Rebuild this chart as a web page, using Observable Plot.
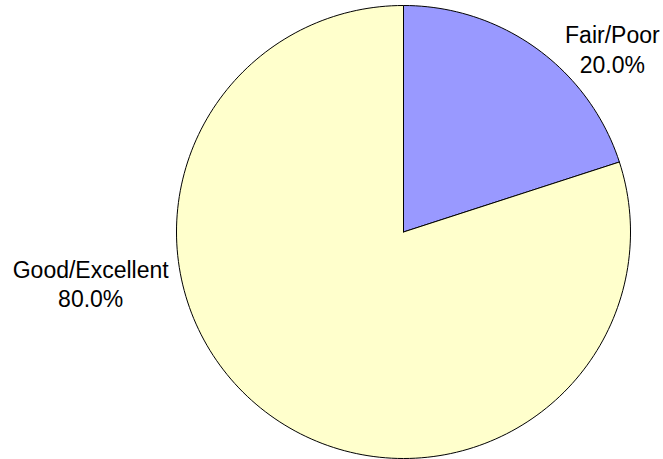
<!DOCTYPE html>
<html>
<head>
<meta charset="utf-8">
<script src="https://cdn.jsdelivr.net/npm/d3@7"></script>
<script src="https://cdn.jsdelivr.net/npm/@observablehq/plot@0.6"></script>
<style>
  html, body { margin: 0; padding: 0; background: #fff; }
  #chart svg { display: block; }
</style>
</head>
<body>
<div id="chart"></div>
<script>
const categories = ["Fair/Poor", "Good/Excellent"];
const values = [20.0, 80.0];
const colors = ["#9999FF", "#FFFFCC"];

// Build slice polygons from the data via d3.pie (angles clockwise from 12 o'clock)
const pie = d3.pie().sort(null).value(d => d.value);
const arcs = pie(categories.map((c, i) => ({category: c, value: values[i], color: colors[i]})));
const N = 240;
const pts = [];
for (const a of arcs) {
  const n = Math.max(2, Math.round(N * (a.endAngle - a.startAngle) / (2 * Math.PI)));
  pts.push({slice: a.data.category, color: a.data.color, x: 0, y: 0});
  for (let k = 0; k <= n; k++) {
    const t = a.startAngle + (a.endAngle - a.startAngle) * k / n;
    pts.push({slice: a.data.category, color: a.data.color, x: Math.sin(t), y: Math.cos(t)});
  }
  pts.push({slice: a.data.category, color: a.data.color, x: 0, y: 0});
}

const labels = arcs.map(a => ({
  text: a.data.category + "\n" + a.data.value.toFixed(1) + "%",
  category: a.data.category
}));
// label anchor positions (in pie-radius units)
const labelPos = {
  "Fair/Poor": [0.92, 0.81],
  "Good/Excellent": [-1.378, -0.225]
};

const chart = Plot.plot({
  width: 663,
  height: 459,
  margin: 0,
  x: {domain: [-1, 1], range: [176, 630], axis: null},
  y: {domain: [-1, 1], range: [458, 5], axis: null},
  color: {type: "identity"},
  style: {fontFamily: "'Liberation Sans', Arial, sans-serif", background: "#fff"},
  marks: [
    Plot.line(pts, {x: "x", y: "y", z: "slice", fill: "color", stroke: "#000", strokeWidth: 1, curve: "linear"}),
    Plot.text(labels, {
      x: d => labelPos[d.category][0],
      y: d => labelPos[d.category][1],
      text: "text",
      fontSize: 23,
      lineHeight: 1.3,
      textAnchor: "middle",
      lineAnchor: "middle",
      fill: "#000"
    })
  ]
});
document.getElementById("chart").appendChild(chart);
</script>
</body>
</html>
